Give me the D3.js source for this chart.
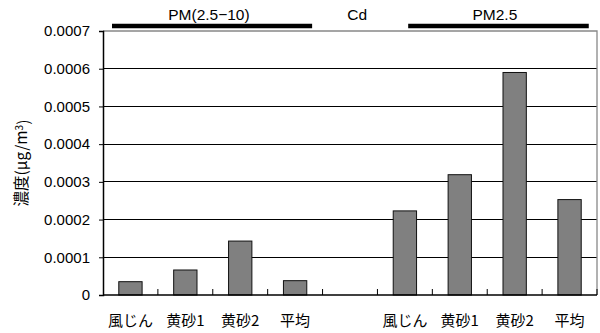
<!DOCTYPE html>
<html><head><meta charset="utf-8">
<script src="https://cdn.jsdelivr.net/npm/d3@7"></script>
<style>
body{margin:0;background:#fff;}
text{font-family:"Liberation Sans",Arial,sans-serif;fill:#000;}
.jp{font-family:"Noto Sans CJK JP",sans-serif;}
</style></head>
<body><svg id="c" width="600" height="333"></svg>
<script>
// Data
const categories = ["風じん","黄砂1","黄砂2","平均","","風じん","黄砂1","黄砂2","平均"];
const values = [0.0000353, 0.0000663, 0.000143, 0.000038, null, 0.000223, 0.000319, 0.00059, 0.000253];
const yTicks = [0, 0.0001, 0.0002, 0.0003, 0.0004, 0.0005, 0.0006, 0.0007];
const groupLabels = ["PM(2.5\u221210)", "Cd", "PM2.5"];
const groupLabelPos = [1.93, 4.63, 7.14];      // in category-index units
const groupLines = [[0.164, 3.81], [5.56, 8.85]]; // in category-index units
const yLabel = "濃度(μg/m";

const svg = d3.select("#c");
const L = 103, R = 597, T = 31, B = 295;
const idx = d3.range(categories.length);
const x = d3.scaleBand().domain(idx).range([L, R]).paddingInner(0.575).paddingOuter(0.2875);
const xb = d3.scaleBand().domain(idx).range([L, R]);
const xi = d3.scaleLinear().domain([0, categories.length]).range([L, R]);
const y = d3.scaleLinear().domain([0, 0.0007]).range([B, T]);

// gridlines
svg.append("g").selectAll("line").data(yTicks.filter(d => d > 0 && d < 0.0007)).join("line")
  .attr("x1", L).attr("x2", R).attr("y1", d => y(d)).attr("y2", d => y(d))
  .attr("stroke", "#000").attr("stroke-width", 1).attr("shape-rendering", "crispEdges");
// top & right border grey
svg.append("path").attr("d", `M${L},${y(0.0007)}H${R}V${B}`).attr("fill", "none")
  .attr("stroke", "#888").attr("stroke-width", 1.3);

// bars
svg.append("g").selectAll("rect").data(idx.filter(i => values[i] != null)).join("rect")
  .attr("x", i => x(i)).attr("width", x.bandwidth())
  .attr("y", i => y(values[i])).attr("height", i => B - y(values[i]))
  .attr("fill", "#808080").attr("stroke", "#111").attr("stroke-width", 1);

// y axis
const ya = svg.append("g").attr("transform", `translate(${L},0)`)
  .call(d3.axisLeft(y).tickValues(yTicks).tickSize(4).tickPadding(9)
    .tickFormat(d => d === 0 ? "0" : d3.format(".4f")(d)));
ya.select(".domain").attr("stroke", "#000").attr("stroke-width", 1.5);
ya.selectAll("text").style("font-size", "15px").attr("font-family", "Liberation Sans, Arial, sans-serif").attr("fill", "#000");

// x axis line and inner ticks
svg.append("line").attr("x1", L).attr("x2", R).attr("y1", B).attr("y2", B).attr("stroke", "#000").attr("stroke-width", 1.5);
svg.append("g").selectAll("line").data(d3.range(1, categories.length + 1)).join("line")
  .attr("x1", i => xi(i)).attr("x2", i => xi(i)).attr("y1", B).attr("y2", B - 6)
  .attr("stroke", "#000").attr("stroke-width", 1);

// category labels
svg.append("g").selectAll("text").data(idx).join("text").attr("class", "jp")
  .attr("x", i => xb(i) + xb.bandwidth() / 2).attr("y", 321).attr("dy", "0.36em")
  .attr("text-anchor", "middle").attr("fill", "#000").style("font-size", "15px").text(i => categories[i]);

// group annotation lines and labels
svg.append("g").selectAll("line").data(groupLines).join("line")
  .attr("x1", d => xi(d[0])).attr("x2", d => xi(d[1])).attr("y1", 26).attr("y2", 26)
  .attr("stroke", "#000").attr("stroke-width", 4.5);
svg.append("g").selectAll("text").data(groupLabels).join("text")
  .attr("x", (d, i) => xi(groupLabelPos[i])).attr("y", 20).attr("text-anchor", "middle")
  .attr("fill", "#000").style("font-size", "15.5px").text(d => d);

// y label
const yl = svg.append("text").attr("class", "jp").attr("fill", "#000")
  .attr("transform", `translate(27,${(T + B) / 2}) rotate(-90)`)
  .attr("text-anchor", "middle").style("font-size", "15.5px");
yl.append("tspan").attr("fill", "#000").text(yLabel);
yl.append("tspan").attr("fill", "#000").attr("dy", "-0.45em").style("font-size", "10px").text("3");
yl.append("tspan").attr("fill", "#000").attr("dy", "0.45em").text(")");
</script></body></html>
